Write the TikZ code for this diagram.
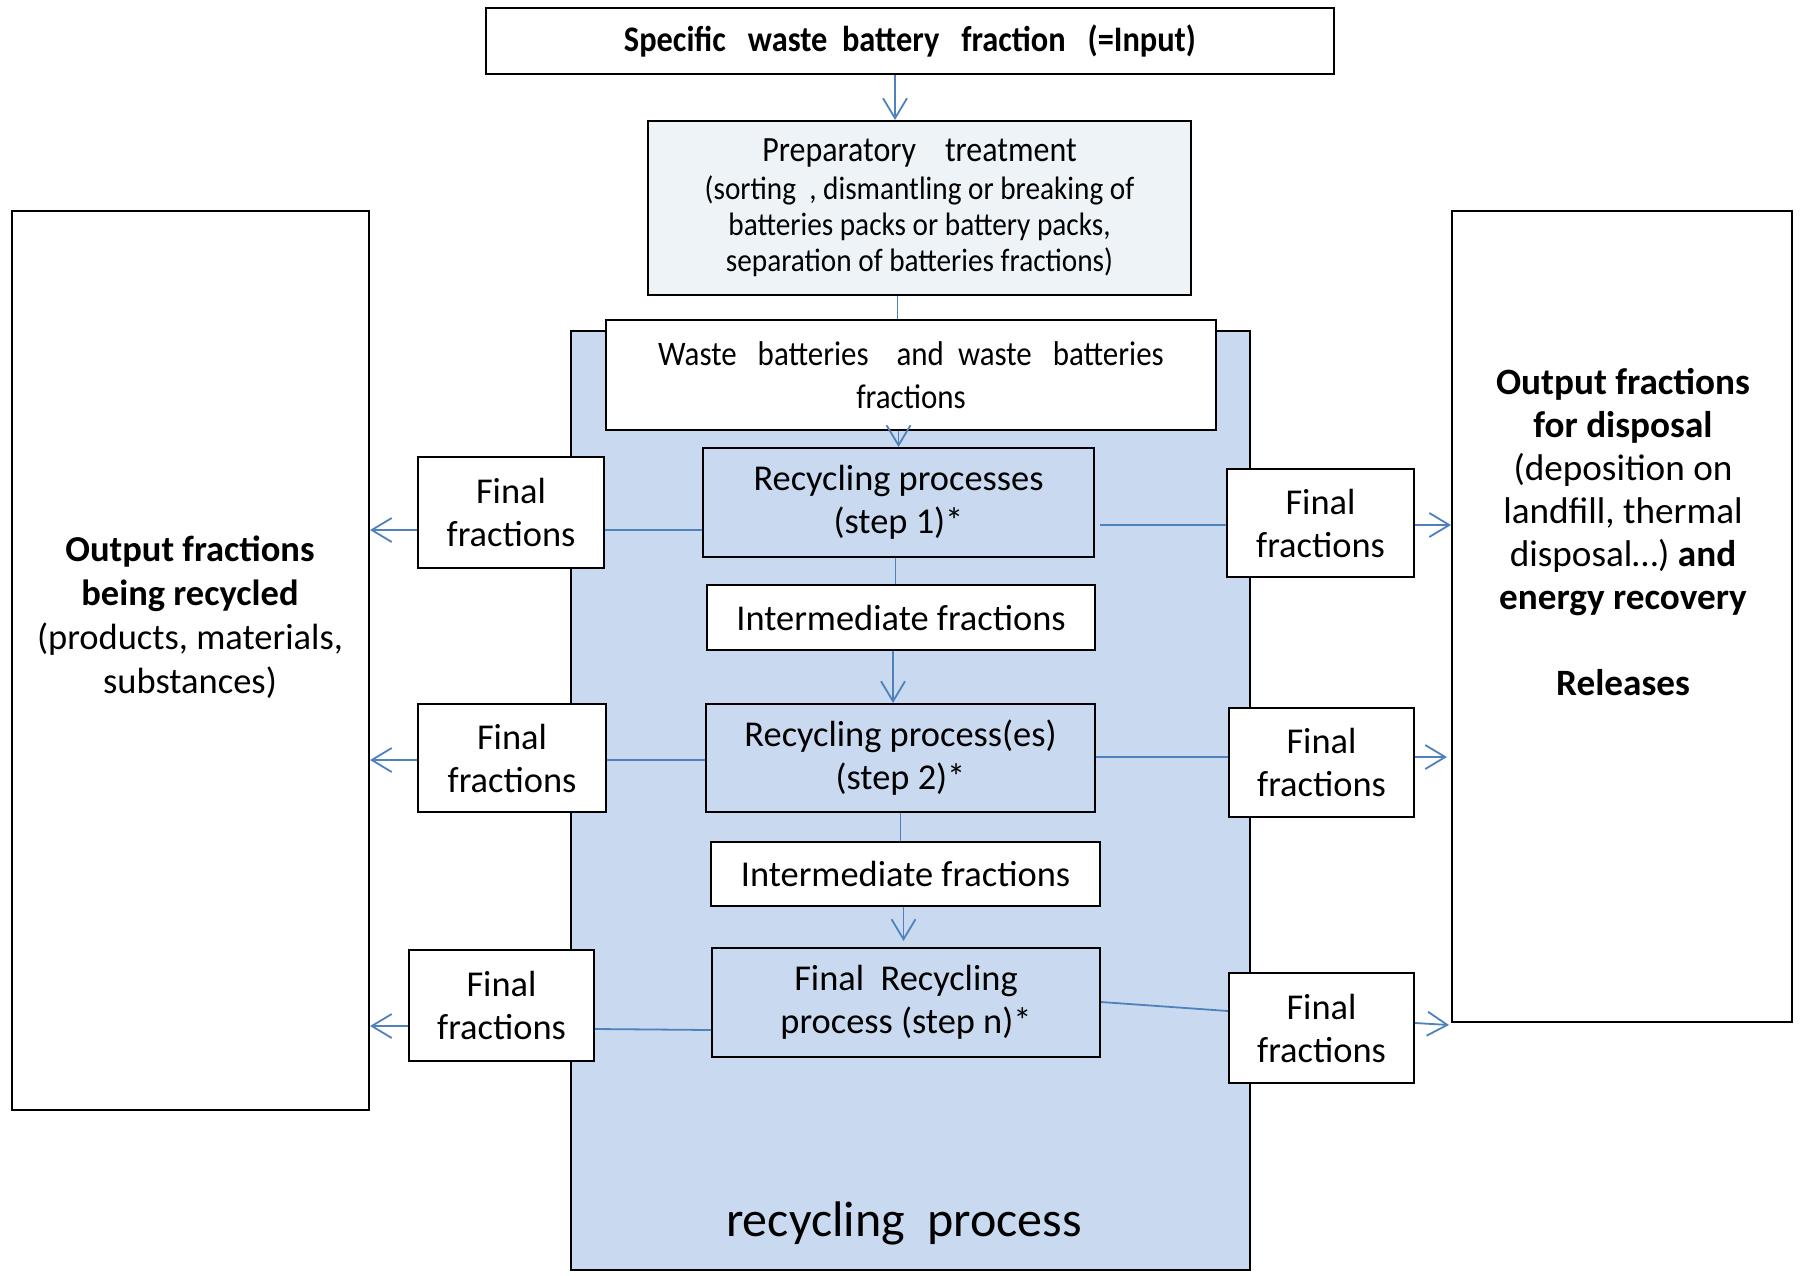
\documentclass[tikz,border=0pt]{standalone}
\usepackage{fontspec}
\setmainfont{Carlito}
\newfontfamily\narrowfont[FakeStretch=0.9]{Carlito}
\usetikzlibrary{arrows.meta}

\definecolor{procblue}{HTML}{C9DAF0}
\definecolor{prepgray}{HTML}{EEF3F8}
\definecolor{linkblue}{HTML}{4F81BD}

\tikzset{
  box/.style={draw,line width=2pt,fill=white,align=center,inner sep=0pt,
    font=\fontsize{36.4}{43}\selectfont},
  dims/.style 2 args={minimum width=#1pt,minimum height=#2pt},
  procbox/.style={box,fill=procblue},
  link/.style={draw=linkblue,line width=1.8pt},
  arr/.style={link,-{Straight Barb[length=20pt,width=24pt,line width=1.8pt]}},
  bigtext/.style={align=center,font=\fontsize{36.5}{44}\selectfont},
}

\begin{document}
\begin{tikzpicture}[x=1pt,y=-1pt]
    \useasboundingbox (0,0) rectangle (1806,1275);
    % frame of the recycling process
    \node[procbox,dims={679}{939}] (recframe) at (910.5,800.5) {};
    \node[font=\fontsize{50}{54}\selectfont] (reclbl) at (904,1223) {recycling\ \ process};
    % input and preparation
    \node[box,dims={848}{66},font=\narrowfont\bfseries\fontsize{36}{40}\selectfont] (top) at (910,41)
      {Specific\ \ \ waste\ \ battery\ \ \ fraction\ \ \ (=Input)};
    \node[box,fill=prepgray,dims={543}{174},font=\narrowfont\fontsize{32.5}{36}\selectfont] (prep) at (919.5,208)
      {{\fontsize{35.5}{36}\selectfont Preparatory\ \ \ \ treatment}\\[2pt]
       (sorting\ \ , dismantling\ or breaking of\\
       batteries packs or battery\ packs,\\
       separation of batteries fractions)};
    \node[box,dims={610}{110},font=\narrowfont\fontsize{34.4}{43}\selectfont] (waste) at (911,375)
      {Waste\ \ \ batteries\ \ \ \ and\ \ waste\ \ \ batteries\\fractions};
    % steps
    \node[procbox,dims={391}{109}] (rec1) at (898.5,502.5) {Recycling processes\\(step 1)*};
    \node[box,dims={388}{65}] (int1) at (901,617.5) {Intermediate fractions};
    \node[procbox,dims={389}{108}] (rec2) at (900.5,758) {Recycling process(es)\\(step 2)*};
    \node[box,dims={389}{64}] (int2) at (905.5,874) {Intermediate fractions};
    \node[procbox,dims={388}{109}] (rec3) at (906,1002.5) {Final\ \ Recycling\\process (step n)*};
    % outputs
    \node[box,dims={357}{899}] (leftbox) at (190.5,660.5) {};
    \node[bigtext] (lefttxt) at (190,617)
      {\textbf{Output fractions}\\\textbf{being recycled}\\(products, materials,\\substances)};
    \node[box,dims={340}{811}] (rightbox) at (1622,616.5) {};
    \node[bigtext,font=\fontsize{37.2}{43}\selectfont] (righttxt) at (1623,532)
      {\textbf{Output fractions}\\\textbf{for disposal}\\(deposition on\\landfill, thermal\\
       disposal\dots) \textbf{and}\\\textbf{energy recovery}\\[43pt]\textbf{Releases}};
    \node[box,dims={186}{111}] (L1) at (511,512.5) {Final\\fractions};
    \node[box,dims={188}{108}] (L2) at (512,758) {Final\\fractions};
    \node[box,dims={185}{111}] (L3) at (501.5,1005.5) {Final\\fractions};
    \node[box,dims={187}{108}] (R1) at (1320.5,523) {Final\\fractions};
    \node[box,dims={185}{109}] (R2) at (1321.5,762.5) {Final\\fractions};
    \node[box,dims={185}{110}] (R3) at (1321.5,1028) {Final\\fractions};
    % main flow
    \draw[arr] ([xshift=-15pt]top.south) -- ([xshift=-15pt]top.south |- prep.north);
    \draw[link] ([xshift=-22pt]prep.south) -- ([xshift=-22pt]prep.south |- waste.north);
    \draw[arr] (waste.south -| rec1.north) -- (rec1.north);
    \draw[link] ([xshift=-3pt]rec1.south) -- ([xshift=-3pt]rec1.south |- int1.north);
    \draw[arr] ([xshift=-8pt]int1.south) -- ([xshift=-8pt]int1.south |- rec2.north);
    \draw[link] (rec2.south) -- (rec2.south |- int2.north);
    \draw[arr] ([xshift=-2pt]int2.south) -- ([xshift=-2pt,yshift=6pt]int2.south |- rec3.north);
    % left side
    \draw[link] (rec1.west |- 0,530) -- (L1.east |- 0,530);
    \draw[arr] (L1.west |- 0,530) -- (leftbox.east |- 0,530);
    \draw[link] (rec2.west |- 0,760) -- (L2.east |- 0,760);
    \draw[arr] (L2.west |- 0,760) -- (leftbox.east |- 0,760);
    \draw[link] (rec3.west |- 0,1030) -- (L3.east |- 0,1029);
    \draw[arr] (L3.west |- 0,1026) -- (leftbox.east |- 0,1026);
    % right side
    \draw[link] ([xshift=5pt]rec1.east |- 0,525) -- (R1.west |- 0,525);
    \draw[arr] (R1.east |- 0,525) -- (rightbox.west |- 0,525);
    \draw[link] (rec2.east |- 0,757) -- (R2.west |- 0,757);
    \draw[arr] (R2.east |- 0,757) -- ([xshift=-4pt]rightbox.west |- 0,757);
    \draw[link] (rec3.east |- 0,1002) -- (R3.west |- 0,1011);
    \draw[arr] (R3.east |- 0,1023) -- ([xshift=-2pt]rightbox.west |- 0,1025);
\end{tikzpicture}
\end{document}
